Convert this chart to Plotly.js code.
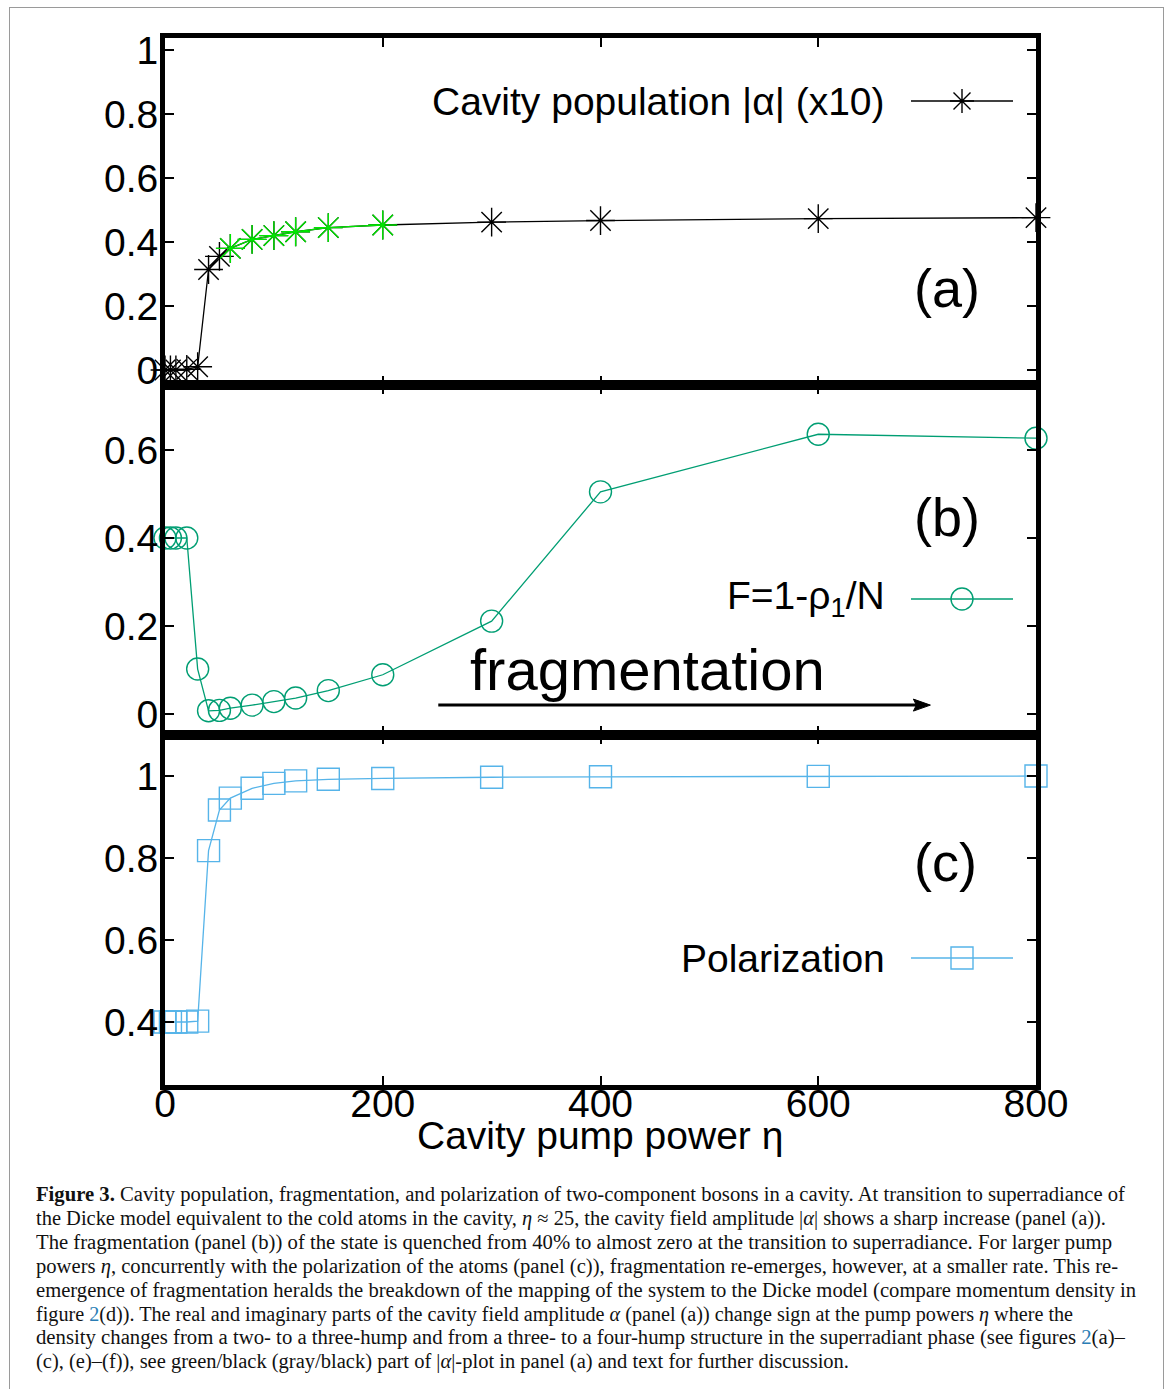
<!DOCTYPE html>
<html>
<head>
<meta charset="utf-8">
<script src="https://cdn.plot.ly/plotly-3.0.1.min.js"></script>
<style>
  html, body { margin: 0; padding: 0; background: #fff; }
  #wrap { position: relative; width: 1168px; height: 1389px; overflow: hidden; }
  #frame { position: absolute; left: 9px; top: 7px; width: 1155px; height: 1400px; border: 1.5px solid #9a9a9a; box-sizing: border-box; }
  #chart { position: absolute; left: 0; top: 0; width: 1168px; height: 1389px; }
  #caption { position: absolute; left: 36px; top: 1182px; font-family: "Liberation Serif", "DejaVu Serif", serif; font-size: 20px; color: #111; }
  #caption .ln { position: absolute; left: 0; white-space: nowrap; transform-origin: 0 0; line-height: 24px; }
  #caption .lk { color: #2a7db5; }
</style>
</head>
<body>
<div id="wrap">
  <div id="frame"></div>
  <div id="chart"></div>
  <div id="caption"></div>
</div>
<script>
// ---------------- data ----------------
const eta = [0, 5, 10, 20, 30, 40, 50, 60, 80, 100, 120, 150, 200, 300, 400, 600, 800];
const cavityAlpha = [0, 0, 0, 0.002, 0.01, 0.314, 0.355, 0.38, 0.408, 0.42, 0.432, 0.445, 0.453, 0.462, 0.467, 0.473, 0.476];
const greenEtaMin = 60, greenEtaMax = 200;   // green part of |alpha| curve
const fragmentation = [0.4, 0.4, 0.4, 0.4, 0.102, 0.007, 0.008, 0.013, 0.02, 0.028, 0.036, 0.053, 0.089, 0.211, 0.505, 0.636, 0.627];
const polarization = [0.4, 0.4, 0.4, 0.4, 0.402, 0.818, 0.917, 0.946, 0.97, 0.982, 0.988, 0.992, 0.994, 0.997, 0.998, 0.999, 1.0];
const xTicks = [0, 200, 400, 600, 800];
const seriesNames = ['Cavity population |α| (x10)', 'F=1-ρ<sub>1</sub>/N', 'Polarization'];
const panelLabels = ['(a)', '(b)', '(c)'];
const xTitle = 'Cavity pump power η';
const arrowText = 'fragmentation';
const arrowFrom = 251, arrowTo = 703, arrowLevel = 0.02;

// ---------------- styles ----------------
const W = 1168, H = 1389;
const FONT = '"Liberation Sans", Arial, Helvetica, sans-serif';
const TICK_SIZE = 39;
const cBlack = '#000000', cGreen = '#00e600', cTeal = '#009e73', cBlue = '#56b4e9';
const px = v => v / W;
const py = v => (H - v) / H;

const greenIdx = eta.map((e, i) => i).filter(i => eta[i] >= greenEtaMin && eta[i] <= greenEtaMax);

const traces = [
  { x: eta, y: cavityAlpha, xaxis: 'x', yaxis: 'y', mode: 'lines+markers', name: seriesNames[0], cliponaxis: false,
    line: { color: cBlack, width: 1.3 },
    marker: { symbol: 'asterisk-open', size: 24, color: cBlack, line: { color: cBlack, width: 1.4 } } },
  { x: greenIdx.map(i => eta[i]), y: greenIdx.map(i => cavityAlpha[i]), xaxis: 'x', yaxis: 'y', mode: 'lines+markers', name: 'green part', cliponaxis: false,
    line: { color: cGreen, width: 1.3 },
    marker: { symbol: 'asterisk-open', size: 24, color: cGreen, line: { color: cGreen, width: 1.4 } } },
  { x: eta, y: fragmentation, xaxis: 'x2', yaxis: 'y2', mode: 'lines+markers', name: 'F', cliponaxis: false,
    line: { color: cTeal, width: 1.3 },
    marker: { symbol: 'circle-open', size: 22, color: cTeal, line: { color: cTeal, width: 1.4 } } },
  { x: eta, y: polarization, xaxis: 'x3', yaxis: 'y3', mode: 'lines+markers', name: 'Polarization', cliponaxis: false,
    line: { color: cBlue, width: 1.3 },
    marker: { symbol: 'square-open', size: 22, color: cBlue, line: { color: cBlue, width: 1.4 } } }
];

const xDomain = [px(165), px(1036)];
function xAxis(anchor, showLabels) {
  return {
    domain: xDomain, range: [0, 800], anchor: anchor,
    tickvals: xTicks, ticktext: xTicks.map(String), showticklabels: showLabels,
    ticks: 'inside', ticklen: 9, tickwidth: 2, tickcolor: '#000',
    showline: true, linewidth: 5, linecolor: '#000', mirror: 'allticks',
    showgrid: false, zeroline: false, ticklabelstandoff: -20,
    tickfont: { family: FONT, size: TICK_SIZE, color: '#000' }
  };
}
function yAxis(anchor, domain, range, tickvals) {
  return {
    domain: domain, range: range, anchor: anchor,
    tickvals: tickvals, ticktext: tickvals.map(v => String(v)),
    ticks: 'inside', ticklen: 9, tickwidth: 2, tickcolor: '#000',
    showline: true, linewidth: 5, linecolor: '#000', mirror: 'allticks',
    showgrid: false, zeroline: false, ticklabelstandoff: -6,
    tickfont: { family: FONT, size: TICK_SIZE, color: '#000' }
  };
}

const annFont = { family: FONT, size: 39, color: '#000' };
const labFont = { family: FONT, size: 54, color: '#000' };
const annotations = [
  // legend texts
  { xref: 'paper', yref: 'paper', x: px(887), y: py(101), xanchor: 'right', yanchor: 'middle', text: seriesNames[0], showarrow: false, font: annFont },
  { xref: 'paper', yref: 'paper', x: px(887), y: py(598), xanchor: 'right', yanchor: 'middle', text: seriesNames[1], showarrow: false, font: annFont },
  { xref: 'paper', yref: 'paper', x: px(887), y: py(958), xanchor: 'right', yanchor: 'middle', text: seriesNames[2], showarrow: false, font: annFont },
  // panel labels
  { xref: 'paper', yref: 'paper', x: px(947), y: py(288), xanchor: 'center', yanchor: 'middle', text: panelLabels[0], showarrow: false, font: labFont },
  { xref: 'paper', yref: 'paper', x: px(947), y: py(517), xanchor: 'center', yanchor: 'middle', text: panelLabels[1], showarrow: false, font: labFont },
  { xref: 'paper', yref: 'paper', x: px(945), y: py(862), xanchor: 'center', yanchor: 'middle', text: panelLabels[2], showarrow: false, font: labFont },
  // fragmentation text
  { xref: 'x2', yref: 'y2', x: 443, y: 0.1, xanchor: 'center', yanchor: 'middle', text: arrowText, showarrow: false, font: { family: FONT, size: 58, color: '#000' } },
  // x-axis title
  { xref: 'paper', yref: 'paper', x: px(600), y: py(1135), xanchor: 'center', yanchor: 'middle', text: xTitle, showarrow: false, font: annFont }
];

// legend samples (line + marker glyph), drawn in pixel units around an anchor
function sampleLine(y, color) {
  return { type: 'line', xref: 'paper', yref: 'paper', x0: px(911), x1: px(1013), y0: py(y), y1: py(y), line: { color: color, width: 1.3 } };
}
const starPath = 'M-12,0L12,0M0,-12L0,12M-8.5,-8.5L8.5,8.5M-8.5,8.5L8.5,-8.5';
const shapes = [
  sampleLine(101, cBlack),
  { type: 'path', xref: 'paper', yref: 'paper', xsizemode: 'pixel', ysizemode: 'pixel', xanchor: px(962), yanchor: py(101), path: starPath, line: { color: cBlack, width: 1.4 } },
  sampleLine(599, cTeal),
  { type: 'circle', xref: 'paper', yref: 'paper', xsizemode: 'pixel', ysizemode: 'pixel', xanchor: px(962), yanchor: py(599), x0: -11, x1: 11, y0: -11, y1: 11, line: { color: cTeal, width: 1.4 } },
  sampleLine(958, cBlue),
  { type: 'rect', xref: 'paper', yref: 'paper', xsizemode: 'pixel', ysizemode: 'pixel', xanchor: px(962), yanchor: py(958), x0: -11, x1: 11, y0: -11, y1: 11, line: { color: cBlue, width: 1.4 } },
  // fragmentation arrow
  { type: 'line', xref: 'x2', yref: 'y2', x0: arrowFrom, x1: arrowTo - 8, y0: arrowLevel, y1: arrowLevel, line: { color: '#000', width: 3 } },
  { type: 'path', xref: 'x2', yref: 'y2', xsizemode: 'pixel', ysizemode: 'pixel', xanchor: arrowTo, yanchor: arrowLevel,
    path: 'M0,0L-17,6L-14,0L-17,-6Z', fillcolor: '#000', line: { color: '#000', width: 1 } }
];

const layout = {
  width: W, height: H,
  margin: { l: 0, r: 0, t: 0, b: 0, pad: 0 },
  paper_bgcolor: 'rgba(0,0,0,0)', plot_bgcolor: 'rgba(0,0,0,0)',
  showlegend: false,
  font: { family: FONT, color: '#000' },
  xaxis: xAxis('y', false),
  yaxis: yAxis('x', [py(385), py(38)], [-0.047, 1.0375], [0, 0.2, 0.4, 0.6, 0.8, 1]),
  xaxis2: xAxis('y2', false),
  yaxis2: yAxis('x2', [py(735), py(385)], [-0.048, 0.748], [0, 0.2, 0.4, 0.6]),
  xaxis3: xAxis('y3', true),
  yaxis3: yAxis('x3', [py(1085), py(735)], [0.2463, 1.1], [0.4, 0.6, 0.8, 1]),
  annotations: annotations,
  shapes: shapes
};

Plotly.newPlot('chart', traces, layout, { displayModeBar: false, staticPlot: true });

// ---------------- caption ----------------
const captionLines = [
  '<b>Figure 3.</b> Cavity population, fragmentation, and polarization of two-component bosons in a cavity. At transition to superradiance of',
  'the Dicke model equivalent to the cold atoms in the cavity, <i>η</i> ≈ 25, the cavity field amplitude |<i>α</i>| shows a sharp increase (panel (a)).',
  'The fragmentation (panel (b)) of the state is quenched from 40% to almost zero at the transition to superradiance. For larger pump',
  'powers <i>η</i>, concurrently with the polarization of the atoms (panel (c)), fragmentation re-emerges, however, at a smaller rate. This re-',
  'emergence of fragmentation heralds the breakdown of the mapping of the system to the Dicke model (compare momentum density in',
  'figure <span class="lk">2</span>(d)). The real and imaginary parts of the cavity field amplitude <i>α</i> (panel (a)) change sign at the pump powers <i>η</i> where the',
  'density changes from a two- to a three-hump and from a three- to a four-hump structure in the superradiant phase (see figures <span class="lk">2</span>(a)–',
  '(c), (e)–(f)), see green/black (gray/black) part of |<i>α</i>|-plot in panel (a) and text for further discussion.'
];
const captionRight = [1125, 1106, 1112, 1118, 1136, 1073, 1125, 849];
const cap = document.getElementById('caption');
captionLines.forEach((t, i) => {
  const d = document.createElement('div');
  d.className = 'ln';
  d.style.top = (i * 23.9) + 'px';
  d.innerHTML = t;
  cap.appendChild(d);
  const w = d.getBoundingClientRect().width;
  const target = captionRight[i] - 36;
  d.style.transform = 'scaleX(' + (target / w).toFixed(4) + ')';
});
</script>
</body>
</html>
